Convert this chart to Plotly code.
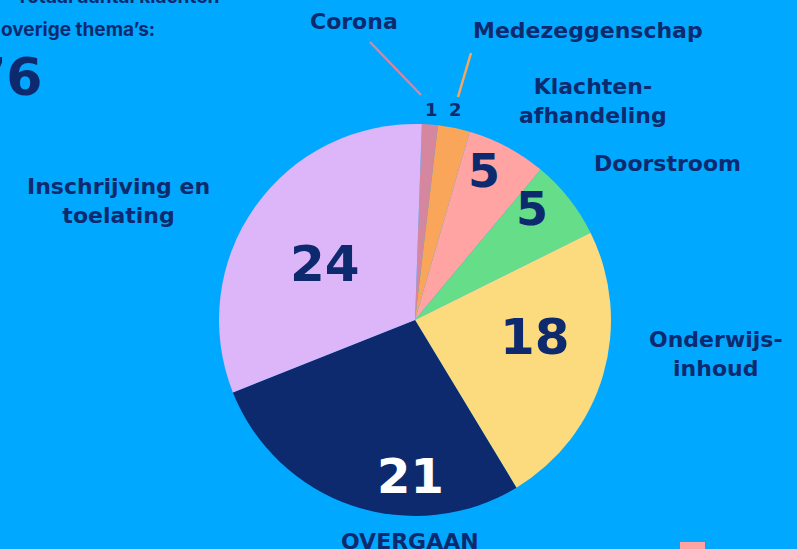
import plotly.graph_objects as go

categories = ["Corona", "Medezeggenschap", "Klachtenafhandeling", "Doorstroom",
              "Onderwijsinhoud", "OVERGAAN", "Inschrijving en toelating"]
values = [1, 2, 5, 5, 18, 21, 24]
label_texts = ["Corona", "Medezeggenschap", "Klachten-<br>afhandeling", "Doorstroom",
               "Onderwijs-<br>inhoud", "OVERGAAN", "Inschrijving en<br>toelating"]
colors = ["#D4879F", "#F9A65A", "#FFA3A3", "#66DD88", "#FCDA7E", "#0E2A6E", "#DDB6FA"]
text_colors = ["#0E2A6E", "#0E2A6E", "#0E2A6E", "#0E2A6E", "#0E2A6E", "#FFFFFF", "#0E2A6E"]
text_sizes = [18, 18, 46, 46, 50, 48, 50]

W, H = 797, 549
BG = "#00A8FF"
NAVY = "#0E2A6E"
FONT = "DejaVu Sans"

cx, cy, R = 415, 320, 196

fig = go.Figure(go.Pie(
    labels=categories, values=values, sort=False, direction="clockwise", rotation=2,
    marker=dict(colors=colors, line=dict(width=0)),
    textinfo="none", textposition="none",
    showlegend=False, hoverinfo="label+value",
    domain=dict(x=[(cx - R) / W, (cx + R) / W], y=[(H - cy - R) / H, (H - cy + R) / H]),
))

def px(x):
    return x / W

def py(y):
    return 1 - y / H

# value label positions (pixels) and category label positions
value_pos = [(431, 110), (455, 110), (484, 171), (532, 209), (535, 337), (410, 476), (325, 264)]
label_pos = [(354, 22), (588, 31), (593, 101), (667, 164), (716, 354), (410, 541), (118, 201)]

annotations = []
for i, v in enumerate(values):
    x, y = value_pos[i]
    annotations.append(dict(text=str(v), x=px(x), y=py(y), xref="paper", yref="paper",
                            xanchor="center", yanchor="middle", showarrow=False,
                            font=dict(family=FONT, size=text_sizes[i], color=text_colors[i],
                                      weight="bold")))
for i, t in enumerate(label_texts):
    x, y = label_pos[i]
    annotations.append(dict(text=t, x=px(x), y=py(y), xref="paper", yref="paper",
                            xanchor="center", yanchor="middle", align="center", showarrow=False,
                            font=dict(family=FONT, size=22, color=NAVY, weight="bold")))

annotations.append(dict(text="Totaal aantal klachten", x=px(221), y=py(-3),
                        xref="paper", yref="paper", xanchor="right", yanchor="middle",
                        showarrow=False,
                        font=dict(family="Inter", size=19, color=NAVY, weight="bold")))
annotations.append(dict(text="overige thema’s:", x=px(-1), y=py(29),
                        xref="paper", yref="paper", xanchor="left", yanchor="middle",
                        showarrow=False,
                        font=dict(family="Inter", size=19, color=NAVY, weight="bold")))
annotations.append(dict(text=str(sum(values)), x=px(44), y=py(77), xref="paper", yref="paper",
                        xanchor="right", yanchor="middle", showarrow=False,
                        font=dict(family=FONT, size=52, color=NAVY, weight="bold")))

shapes = [
    dict(type="line", xref="paper", yref="paper", x0=px(370), y0=py(42), x1=px(421), y1=py(95),
         line=dict(color="#D4879F", width=2.5)),
    dict(type="line", xref="paper", yref="paper", x0=px(471), y0=py(53), x1=px(458), y1=py(97),
         line=dict(color="#F9A65A", width=2.5)),
    dict(type="rect", xref="paper", yref="paper", x0=px(680), y0=py(542), x1=px(705), y1=py(552),
         fillcolor="#FFA3A3", line=dict(width=0)),
]

fig.update_layout(
    width=W, height=H, margin=dict(l=0, r=0, t=0, b=0),
    paper_bgcolor=BG, plot_bgcolor=BG,
    annotations=annotations, shapes=shapes,
)
fig.write_html("out.html", config={"displayModeBar": False},
               post_script="document.body.style.margin='0px';")
